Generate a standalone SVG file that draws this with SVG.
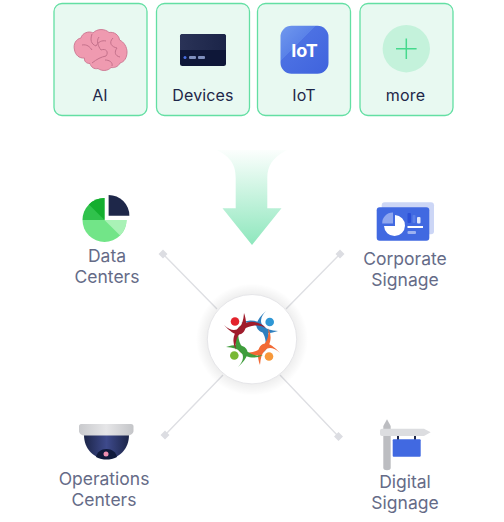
<svg xmlns="http://www.w3.org/2000/svg" width="504" height="522" viewBox="0 0 504 522">
<style>
text{font-family:Inter,"Liberation Sans",sans-serif;text-anchor:middle}
.card{fill:#e8f9f1;stroke:#63dfa3;stroke-width:1.3}
.cl{font-size:16px;fill:#1e2749;letter-spacing:.15px}
.gl{font-size:17.5px;fill:#656b87}
.conn{stroke:#dedfe3;stroke-width:1.4;fill:none}
.dia{fill:#dcdde2}
.fold{fill:none;stroke:#c4718b;stroke-width:1}
</style>
<defs>
<linearGradient id="arrow" x1="0" y1="0" x2="0" y2="1"><stop offset="0" stop-color="#8ee7bd" stop-opacity=".03"/><stop offset="1" stop-color="#8ee7bd"/></linearGradient>
<linearGradient id="iot" x1="0" y1="0" x2="1" y2="1"><stop offset="0" stop-color="#7199ee"/><stop offset=".365" stop-color="#5a82e8"/><stop offset=".365" stop-color="#4c71e3"/><stop offset="1" stop-color="#3f63dd"/></linearGradient>
<linearGradient id="devt" x1="0" y1="0" x2="1" y2="0"><stop offset="0" stop-color="#2a3357"/><stop offset="1" stop-color="#1b2448"/></linearGradient>
<linearGradient id="dome" x1="0" y1="0" x2="1" y2="0"><stop offset="0" stop-color="#1c2548"/><stop offset=".5" stop-color="#3e4a8c"/><stop offset="1" stop-color="#1c2548"/></linearGradient>
<linearGradient id="plate" x1="0" y1="0" x2="1" y2="0"><stop offset="0" stop-color="#c9cacd"/><stop offset=".5" stop-color="#e6e6e8"/><stop offset="1" stop-color="#c4c5c8"/></linearGradient>
<radialGradient id="glow"><stop offset=".78" stop-color="#000" stop-opacity=".07"/><stop offset="1" stop-color="#000" stop-opacity="0"/></radialGradient>
<g id="person">
<path d="M236 350A18.700 18.700 0 0 1 266 328A20.400 20.400 0 0 0 236 350Z"/>
<path d="M224 325C230 331 236 331 239 328C242 325 243.500 320 244 313C246.500 320 247 327 244 331.500C240 337 233 335 224 325Z"/>
</g>
</defs>

<g id="connectors">
<path class="conn" d="M163 254L217 309M340 254L286 309M165 435L223 375M338 436L280 375"/>
<path class="dia" d="M163 249.500L167.500 254L163 258.500L158.500 254ZM340 249.500L344.500 254L340 258.500L335.500 254ZM165 430.500L169.500 435L165 439.500L160.500 435ZM338.500 432L343 436.500L338.500 441L334 436.500Z"/>
</g>

<g id="node-ai">
<rect class="card" x="54" y="3.500" width="93" height="112" rx="8"/>
<path d="M74.500 50C73 44 76 39 81 38C82 33 89 30.500 93 33C97 28.500 105 28.500 109 32.500C114 31.500 119 35 119.500 40C124 42 127 47 127 52C127 58 124 62 120 63C118 67 114 68 111 67.500C108 71 102 71.500 98 68.500C94 69.500 91 67 90 63.500C86 63.500 84 61 84.500 58C79 58.500 75.500 55 74.500 50Z" fill="#ef9ab0" stroke="#cf7c96" stroke-width="1"/>
<path class="fold" d="M82 45C87 44 90 47 92 50M92 34C90 40 91 44 96 46C98 42 102 40 106 41M99 37C96 41 98 46 101 50C106 48 109 52 106 56C101 57 97 59 92 63M113 38C108 43 112 47 117 48C114 52 115 56 120 57M105 60C109 60 113 62 112 66"/>
<text class="cl" x="100" y="101">AI</text>
</g>

<g id="node-devices">
<rect class="card" x="156.500" y="3.500" width="93" height="112" rx="8"/>
<rect x="180" y="34" width="46" height="32" rx="2.500" fill="#0e1738"/>
<path d="M180 50V36.500A2.500 2.500 0 0 1 182.500 34H223.500A2.500 2.500 0 0 1 226 36.500V50Z" fill="url(#devt)"/>
<circle cx="185" cy="57.500" r="1.500" fill="#4a6fe3"/>
<rect x="189" y="56" width="7" height="3" rx="1" fill="#7f8fbd"/>
<rect x="198" y="56" width="7" height="3" rx="1" fill="#7f8fbd"/>
<text class="cl" x="203" y="101">Devices</text>
</g>

<g id="node-iot">
<rect class="card" x="257.500" y="3.500" width="93" height="112" rx="8"/>
<rect x="280.500" y="25.700" width="48" height="48" rx="11" fill="url(#iot)"/>
<text x="304.500" y="56.500" font-size="18" font-weight="700" fill="#fff">IoT</text>
<text class="cl" x="304" y="101">IoT</text>
</g>

<g id="node-more">
<rect class="card" x="360" y="3.500" width="93" height="112" rx="8"/>
<circle cx="406.300" cy="48.700" r="23.700" fill="#c4f2db"/>
<path d="M396 48.700H416.600M406.300 38.400V59" stroke="#46d98d" stroke-width="1.500" fill="none"/>
<text class="cl" x="405.500" y="101">more</text>
</g>

<g id="flow-arrow">
<path d="M217 150H287C272 158 267.300 166 267.300 178V208.300H281.500L252 245L222.500 208.300H235.700V178C235.700 166 232 158 217 150Z" fill="url(#arrow)"/>
</g>

<g id="node-data-centers">
<path d="M104.500 198V220H82.500A22 22 0 0 1 104.500 198Z" fill="#30c24c"/>
<path d="M104.500 198V220L88.900 204.400A22 22 0 0 1 104.500 198Z" fill="#14ae2f"/>
<path d="M82.500 220H126.500A22 22 0 0 1 82.500 220Z" fill="#72e588"/>
<path d="M104.500 220H126.500A22 22 0 0 1 120.100 235.600Z" fill="#a9f2b6"/>
<path d="M108.600 195A20.800 20.800 0 0 1 129.400 215.800H108.600Z" fill="#1e2749"/>
<text class="gl" x="107" y="262">Data</text>
<text class="gl" x="107" y="283">Centers</text>
</g>

<g id="node-corporate-signage">
<rect x="381.700" y="202.300" width="52.300" height="32" rx="3" fill="#ccd6f6"/>
<rect x="376.700" y="207.300" width="52.600" height="33.400" rx="3" fill="#4169e1"/>
<path d="M393 212.500V223.500H382.200A10.500 10.500 0 0 1 393 212.500Z" fill="#8ea6ef"/>
<path d="M395 215A10.500 10.500 0 1 1 384 226H395Z" fill="#fff"/>
<rect x="407.500" y="213" width="3.500" height="10" rx="1" fill="#2b50d8"/>
<rect x="412.500" y="215" width="3" height="8" rx="1" fill="#5b7fe8"/>
<rect x="417" y="217" width="3.500" height="6.500" rx="1" fill="#dfe6fb"/>
<rect x="407.500" y="226" width="15.500" height="2" fill="#fff"/>
<rect x="407.500" y="231" width="8.500" height="3" rx="1" fill="#9db2f0"/>
<text class="gl" x="405" y="265">Corporate</text>
<text class="gl" x="405" y="286">Signage</text>
</g>

<g id="node-hub">
<circle cx="252" cy="339.500" r="56" fill="url(#glow)"/>
<circle cx="252" cy="339.200" r="44.700" fill="#fff" stroke="#e6e6e9" stroke-width="1"/>
<use href="#person" fill="#2f7fbe" transform="rotate(90 252 339)"/>
<use href="#person" fill="#f26a35" transform="rotate(180 252 339)"/>
<use href="#person" fill="#3f9d3c" transform="rotate(270 252 339)"/>
<use href="#person" fill="#a01c2c"/>
<circle cx="235" cy="321.500" r="4.300" fill="#e3232c"/>
<circle cx="269.700" cy="322" r="4.300" fill="#2f97d5"/>
<circle cx="234.300" cy="355.500" r="4.300" fill="#79b835"/>
<circle cx="269" cy="356.500" r="4.300" fill="#f7983a"/>
</g>

<g id="node-operations-centers">
<path d="M84 435H129C129 449 119 459 106.500 459C94 459 84 449 84 435Z" fill="url(#dome)"/>
<path d="M96 457C97 452 101 449 106.500 449C112 449 116 452 117 457C113 459 110 459.500 106.500 459.500C103 459.500 100 459 96 457Z" fill="#101a3c"/>
<circle cx="106" cy="454" r="2.500" fill="#ee8fb0"/>
<path d="M81 424H131A2.500 2.500 0 0 1 133.500 426.500V431C133.500 433 131 435.500 128 435.500H84C81 435.500 79 433 79 431V426C79 425 80 424 81 424Z" fill="url(#plate)"/>
<text class="gl" x="104" y="485">Operations</text>
<text class="gl" x="104" y="506">Centers</text>
</g>

<g id="node-digital-signage">
<path d="M383.300 426L387 419.300L390.700 426V468C390.700 471 383.300 471 383.300 468Z" fill="#bcbdc1"/>
<path d="M382 428.700H424L430.700 432.300L424 436H382A2 2 0 0 1 380 434V430.700A2 2 0 0 1 382 428.700Z" fill="#dcdde0"/>
<rect x="397" y="436" width="2" height="4" fill="#1e2749"/>
<rect x="414" y="436" width="2" height="4" fill="#1e2749"/>
<rect x="392.700" y="439.300" width="28" height="17.500" rx="1" fill="#4169e1"/>
<text class="gl" x="405" y="488">Digital</text>
<text class="gl" x="405" y="509">Signage</text>
</g>
</svg>
